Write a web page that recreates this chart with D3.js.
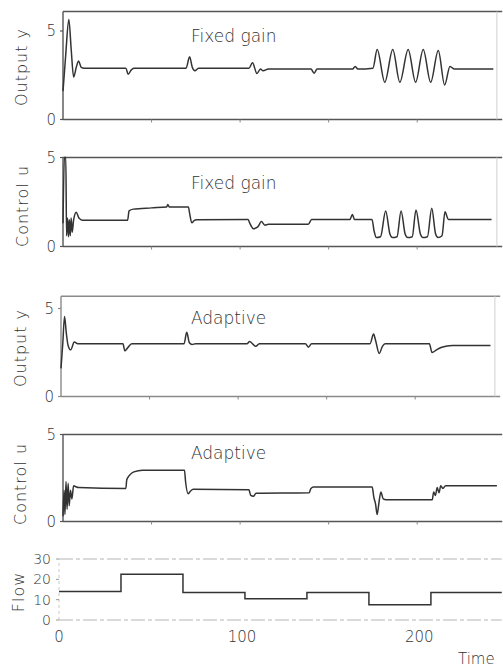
<!DOCTYPE html>
<meta charset="utf-8">
<style>
  body { margin: 0; background: #fff; }
  svg text { font-family: "DejaVu Sans", sans-serif; font-weight: 200; fill: #333; }
</style>
<script src="https://d3js.org/d3.v7.min.js"></script>
<div id="chart"></div>
<script>
// [time, value] pairs
const outputFixed = [[0,1.6],[1.5,3.6],[3.3,5.65],[4.6,4.0],[6,2.4],[7.5,2.95],[8.8,3.3],[10.3,2.95],[12,2.9],[35.5,2.9],[36.8,2.55],[38.5,2.8],[40,2.9],
  [69.5,2.9],[71.5,3.55],[73,2.95],[74.5,2.75],[76.5,2.9],[105,2.9],[107,3.2],[109.5,2.6],[111.5,2.85],[113,2.75],[116,2.85],
  [140,2.85],[141.8,2.62],[143.5,2.85],[163.5,2.85],[165,3.0],[166.5,2.85],[175,2.9],[177.4,3.95],[181.7,2.1],[186.2,3.95],[190.2,2.1],
  [194.9,3.95],[199.1,2.1],[203.4,3.95],[207.6,2.1],[211.9,3.9],[215.5,1.95],[218.5,3.0],[221,2.85],[243,2.85]];

const controlFixed = [[0,1.3],[0.8,5],[1.6,5],[2.0,0.6],[2.6,1.6],[3.1,0.55],[3.6,1.5],[4.1,0.6],[4.6,1.6],[5.2,0.8],[6,1.5],[7.5,1.93],[9,1.6],[11,1.48],
  [36.5,1.48],[37.3,2.0],[39.7,2.1],[50,2.17],[58.5,2.22],[59.2,2.36],[60,2.22],[70.8,2.22],[71.6,1.8],[72.7,1.33],[74,1.45],[75.5,1.5],
  [104.5,1.52],[105.5,1.3],[107.5,1.0],[110,1.1],[112,1.4],[114,1.2],[116,1.25],[138.5,1.25],[140.4,1.52],[162,1.52],[163.4,1.8],[164.6,1.52],
  [174.5,1.52],[175.6,0.9],[177,0.5],[179.3,0.55],[182.2,2.0],[184.6,0.7],[186,0.5],[188.6,0.55],[190.9,2.0],[193.2,0.7],[194.6,0.5],
  [197.2,0.55],[199.3,2.05],[201.8,0.7],[203.2,0.5],[205.8,0.55],[208.2,2.15],[210.4,0.7],[211.8,0.5],[214,0.6],[215.7,1.95],[217.6,1.52],[242,1.52]];

const outputAdaptive = [[0,1.6],[1,3.0],[2,4.55],[3,3.6],[4,2.9],[5.5,2.65],[7.5,3.1],[9.5,3.0],[35,3.0],[36,2.6],[37.5,2.75],[40,3.0],
  [69.5,3.0],[71,3.65],[72.5,3.05],[74,2.95],[76,3.0],[105,3.0],[106.5,3.12],[110,2.85],[112,3.0],[138,3.0],[139.7,2.8],[141.5,3.0],
  [174.5,3.0],[176.5,3.55],[177.6,3.2],[179.7,2.45],[181.5,2.85],[183,3.0],[208,3.0],[209.5,2.5],[212,2.65],[215,2.8],[221,2.9],[242.5,2.9]];

const controlAdaptive = [[0,0.3],[0.6,1.8],[1.1,0.4],[1.7,2.3],[2.3,0.7],[2.9,2.2],[3.5,0.9],[4.2,1.8],[5,1.3],[6,2.05],[7.5,1.98],[9,1.95],
  [35.5,1.9],[36,2.4],[37.5,2.65],[40,2.85],[45,2.95],[68.6,2.95],[69.2,2.3],[70.7,1.6],[72,1.75],[73.5,1.85],[105,1.82],[106,1.5],
  [107.5,1.45],[109,1.62],[139,1.65],[140,1.9],[141.5,1.98],[174.6,1.98],[175.5,1.4],[176.5,1.0],[177.4,0.4],[178.3,1.0],[179.5,1.7],
  [180.8,1.3],[182.5,1.25],[208.5,1.25],[209.3,1.7],[210.3,1.5],[211.3,1.95],[212.3,1.65],[213.3,2.05],[214.5,1.9],[216,2.05],[245,2.05]];

const flow = [[0,14],[35,22.5],[70,13.5],[105,10.5],[140,13.5],[175,7.5],[210,13.5],[250,13.5]];

const mainTicks = [0, 5];
const flowTicks = [0, 10, 20, 30];
const timeLabels = [0, 100, 200];
const timeMarks = [50, 100, 150, 200];

const svg = d3.select("#chart").append("svg")
  .attr("width", 503).attr("height", 667);

// layout of the four stacked panels (pixel positions)
const panels = [
  {data: outputFixed, label: "Output y", title: "Fixed gain", yTop: 31, yBot: 119.5, vTop: 5, frame: 6.1, x0: 63, labY: 67, labX: 27, titleY: 41.5},
  {data: controlFixed, label: "Control u", title: "Fixed gain", yTop: 157.5, yBot: 246.5, vTop: 5, frame: 5, x0: 63, labY: 206, labX: 28, titleY: 189},
  {data: outputAdaptive, label: "Output y", title: "Adaptive", yTop: 308.5, yBot: 396.5, vTop: 5, frame: 5.7, x0: 61, labY: 348, labX: 26, titleY: 324},
  {data: controlAdaptive, label: "Control u", title: "Adaptive", yTop: 434.5, yBot: 521.5, vTop: 5, frame: 5, x0: 63, labY: 484, labX: 26, titleY: 459},
];

panels.forEach(function(p, i) {
  const x = d3.scaleLinear().domain([0, 245]).range([p.x0, p.x0 + 245 * 1.771]);
  const y = d3.scaleLinear().domain([0, p.vTop]).range([p.yBot, p.yTop]);
  const g = svg.append("g");
  const axisCol = i == 2 ? "#8a8a8a" : "#555";

  // frame: top, bottom, left, faint right
  g.append("line").attr("x1", x(0)).attr("x2", x(248)).attr("y1", y(p.frame)).attr("y2", y(p.frame))
    .attr("stroke", axisCol).attr("stroke-width", 1.4);
  g.append("line").attr("x1", x(0)).attr("x2", x(248)).attr("y1", y(0)).attr("y2", y(0))
    .attr("stroke", axisCol).attr("stroke-width", 1.4);
  g.append("line").attr("x1", x(0)).attr("x2", x(0)).attr("y1", y(0)).attr("y2", y(p.frame))
    .attr("stroke", axisCol).attr("stroke-width", 1.4);
  if (i < 3) {
    g.append("line").attr("x1", x(245)).attr("x2", x(245)).attr("y1", y(0)).attr("y2", y(p.frame))
      .attr("stroke", "#d0d0d0").attr("stroke-width", 1);
  }

  // y ticks
  mainTicks.forEach(function(v) {
    g.append("line").attr("x1", x(0) - 3).attr("x2", x(0)).attr("y1", y(v)).attr("y2", y(v))
      .attr("stroke", axisCol).attr("stroke-width", 1.2);
    g.append("text").attr("x", x(0) - 7).attr("y", y(v)).attr("dy", "0.36em")
      .attr("text-anchor", "end").style("font-size", "15px").text(v);
  });
  timeMarks.forEach(function(t) {
    g.append("line").attr("x1", x(t)).attr("x2", x(t)).attr("y1", y(0)).attr("y2", y(0) + 3)
      .attr("stroke", "#888").attr("stroke-width", 1);
  });

  g.append("path").datum(p.data)
    .attr("fill", "none").attr("stroke", "#333").attr("stroke-width", 1.5)
    .attr("stroke-linejoin", "round")
    .attr("d", d3.line().x(d => x(d[0])).y(d => y(d[1])).curve(d3.curveMonotoneX));

  g.append("text").attr("x", 191).attr("y", p.titleY).style("font-size", "17px").text(p.title);

  g.append("text").attr("transform", `translate(${p.labX},${p.labY}) rotate(-90)`)
    .attr("text-anchor", "middle").style("font-size", "16px").style("letter-spacing", "1px").text(p.label);
});

// Flow panel
const xf = d3.scaleLinear().domain([0, 250]).range([59, 59 + 250 * 1.771]);
const yf = d3.scaleLinear().domain([0, 30]).range([620, 559]);
const gf = svg.append("g");

[0, 30].forEach(function(v) {
  gf.append("line").attr("x1", xf(0)).attr("x2", xf(250)).attr("y1", yf(v)).attr("y2", yf(v))
    .attr("stroke", "#b5b5b5").attr("stroke-width", 1.2).attr("stroke-dasharray", "14,3,4,3");
});
gf.append("line").attr("x1", xf(0)).attr("x2", xf(0)).attr("y1", yf(0)).attr("y2", yf(30))
  .attr("stroke", "#c8c8c8").attr("stroke-width", 1).attr("stroke-dasharray", "3,3");

flowTicks.forEach(function(v) {
  gf.append("line").attr("x1", xf(0) - 3).attr("x2", xf(0)).attr("y1", yf(v)).attr("y2", yf(v))
    .attr("stroke", "#999").attr("stroke-width", 1);
  gf.append("text").attr("x", xf(0) - 8).attr("y", yf(v)).attr("dy", "0.36em")
    .attr("text-anchor", "end").style("font-size", "14px").text(v);
});

gf.append("path").datum(flow)
  .attr("fill", "none").attr("stroke", "#333").attr("stroke-width", 1.5)
  .attr("d", d3.line().x(d => xf(d[0])).y(d => yf(d[1])).curve(d3.curveStepAfter));

timeLabels.forEach(function(t) {
  gf.append("text").attr("x", xf(t) + (t ? 6 : 0)).attr("y", 642)
    .attr("text-anchor", "middle").style("font-size", "15px").text(t);
});
gf.append("text").attr("x", 458).attr("y", 664).style("font-size", "15px").text("Time");

gf.append("text").attr("transform", "translate(24,592) rotate(-90)")
  .attr("text-anchor", "middle").style("font-size", "16px").style("letter-spacing", "1px").text("Flow");
</script>
